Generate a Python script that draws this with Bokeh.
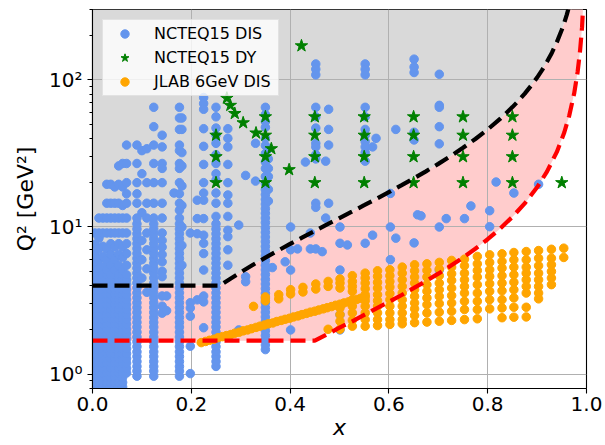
import math
from bokeh.plotting import figure
from bokeh.models import (Range1d, FixedTicker, PrintfTickFormatter, CustomJSTickFormatter,
                          Legend, LegendItem)
from bokeh.embed import file_html
from bokeh.resources import INLINE

# ---------------- data ----------------
X_TICKS = [0.0, 0.2, 0.4, 0.6, 0.8, 1.0]
Y_MAJOR = [1, 10, 100]
Y_MINOR = [0.8, 0.9, 2, 3, 4, 5, 6, 7, 8, 9, 20, 30, 40, 50, 60, 70, 80, 90, 200, 300]
Y_LABELS = {1: "10\u2070", 10: "10\u00b9", 100: "10\u00b2"}

# black dashed cut (Q2 > 4, W cut)
BLACK_X = [0.0, 0.258, 0.28, 0.3, 0.325, 0.35, 0.375, 0.4, 0.425, 0.45, 0.475, 0.5, 0.525, 0.55,
           0.575, 0.6, 0.625, 0.65, 0.675, 0.7, 0.725, 0.75, 0.775, 0.8, 0.825, 0.85, 0.86,
           0.875, 0.89, 0.9, 0.91, 0.92, 0.93, 0.94, 0.95, 0.955, 0.96, 0.965, 0.97]
BLACK_Q2 = [4.0, 4.0, 4.47, 4.93, 5.54, 6.19, 6.90, 7.67, 8.50, 9.41, 10.40, 11.5, 12.71, 14.06,
            15.56, 17.25, 19.17, 21.36, 23.88, 26.83, 30.32, 34.5, 39.61, 46.0, 54.21, 65.2, 70.64,
            80.5, 93.05, 103.5, 116.3, 132.3, 152.8, 180.2, 218.5, 244.1, 276.0, 317.1, 371.8]

# red dashed cut (Q2 > 1.69, W cut)
RED_X = [0.0, 0.45, 0.475, 0.5, 0.525, 0.55, 0.575, 0.6, 0.625, 0.65, 0.675, 0.7, 0.725, 0.75,
         0.775, 0.8, 0.825, 0.85, 0.875, 0.9, 0.92, 0.94, 0.955, 0.965, 0.975, 0.982, 0.987,
         0.991, 0.995]
RED_Q2 = [1.69, 1.69, 1.87, 2.07, 2.28, 2.53, 2.80, 3.10, 3.44, 3.84, 4.29, 4.82, 5.45, 6.20,
          7.12, 8.26, 9.74, 11.71, 14.46, 18.59, 23.76, 32.37, 43.84, 56.96, 80.57, 112.7, 157.8,
          227.5, 411.1]

# NCTEQ15 DIS points, column by column (x, list of Q2)
LOW_STACK = [0.82, 0.88, 0.95, 1.02, 1.1, 1.19, 1.28, 1.38, 1.49, 1.61, 1.74, 1.88, 2.03, 2.19,
             2.37, 2.56, 2.76, 2.98, 3.22, 3.48, 3.76, 4.06, 4.38, 4.73]
COLUMN_STACK = [0.97, 1.05, 1.13, 1.22, 1.32, 1.42, 1.54, 1.66, 1.79, 1.93, 2.09, 2.25, 2.43,
                2.63, 2.84, 3.06, 3.31, 3.57, 3.86, 4.16, 4.5, 4.86, 5.25, 5.67, 6.12, 6.61,
                7.14, 7.71, 8.33, 9.0, 9.7, 10.5]
STACK_035 = [1.47, 1.58, 1.7, 1.83, 1.97, 2.12, 2.28, 2.45, 2.64, 2.84, 3.06, 3.29, 3.54, 3.81,
             4.1, 4.41, 4.75, 5.11, 5.5, 5.92, 6.37, 6.86, 7.38, 7.94, 8.55, 9.2, 9.9, 10.7,
             11.5, 12.4, 13.3, 14.3, 15.4, 16.6, 17.9, 19.8, 22, 25, 27.6, 31.5, 35.7, 40, 47.5,
             52, 58, 65]

DIS_COLUMNS = [
    (0.005, LOW_STACK + [5.2, 5.8, 6.6, 7.6, 9.1]),
    (0.013, LOW_STACK + [5.2, 6.0, 7.1, 8.4, 9.1, 11.5]),
    (0.021, LOW_STACK + [5.4, 6.3, 7.4, 9.1, 11.5]),
    (0.029, LOW_STACK + [5.1, 6.0, 7.1, 9.1, 11.5, 14.5, 19.5]),
    (0.037, LOW_STACK + [5.5, 6.5, 7.7, 9.1, 11.5, 14.5, 19.5]),
    (0.045, LOW_STACK + [5.1, 6.0, 7.3, 9.1, 11.5, 14.5, 18.7]),
    (0.053, LOW_STACK + [5.5, 6.5, 7.7, 9.1, 11.5, 14.5, 19.5, 26.0]),
    (0.061, LOW_STACK + [5.1, 6.2, 7.3, 9.1, 11.5, 14.0, 18.7, 27.0]),
    (0.069, LOW_STACK[3:] + [5.5, 6.6, 7.7, 9.1, 11.5, 14.5, 16.8, 20.0, 27.0, 36.0]),
    (0.09, COLUMN_STACK + [11.5, 14.5, 16.8, 20.0, 27.0, 36.0]),
    (0.10, [33.0, 23.0, 12.5, 8.1, 6.0, 4.5]),
    (0.11, [34.0, 20.0, 14.5, 11.5, 9.1, 7.0, 5.2, 3.6]),
    (0.124, COLUMN_STACK + [11.5, 14.5, 20.0, 27.0, 36.0, 48.0, 65.0]),
    (0.141, [42.0, 35.0, 27.0, 25.0, 20.0, 14.5, 11.5, 9.1, 8.1, 7.3, 6.5, 5.8, 5.0, 4.6, 3.4,
             2.9, 2.6]),
    (0.15, [3.4, 2.7]),
    (0.165, [17.0]),
    (0.176, COLUMN_STACK + [11.5, 13.0, 14.5, 16.8, 20.0, 25.0, 27.0, 33.0, 36.0, 46.0, 55.0, 65.0]),
    (0.181, [55.0, 46.0, 32.0, 26.0, 19.0, 14.0, 10.0, 7.5, 5.5]),
    (0.198, [9.1, 3.06, 2.82, 2.48, 1.55, 1.01]),
    (0.212, [15.2, 11.4, 9.0, 3.2]),
    (0.225, [75.7, 69.0, 63.0, 46.5, 35.3, 26.6, 20.0, 17.0, 15.2, 11.4, 8.8, 7.75, 6.6, 5.1,
             3.4, 3.1, 2.07]),
    (0.25, COLUMN_STACK[2:] + [11.8, 14.5, 17.0, 20.8, 23.0, 27.0, 31.0, 37.0, 42.0, 47.0, 56.0, 65.0]),
    (0.274, [46.5, 40.0, 35.0, 26.6, 20.0, 16.5, 14.5, 11.8, 9.5, 8.6, 7.0, 5.5]),
    (0.296, [10.3, 2.0]),
    (0.31, [22.4, 4.6, 4.25]),
    (0.33, [20.5, 37.0]),
    (0.35, STACK_035),
    (0.356, [15.0, 18.0, 22.0, 25.0, 29.0, 34.0]),
    (0.364, [5.3]),
    (0.39, [5.8]),
    (0.401, [10.0, 7.0, 5.1, 2.0]),
    (0.415, [7.1]),
    (0.431, [27.6]),
    (0.441, [9.1, 7.1]),
    (0.452, [128.0, 118.0, 108.0, 65.0, 56.0, 47.0, 37.0, 35.0, 31.0, 29.0, 14.5, 13.6, 7.1]),
    (0.465, [6.8]),
    (0.472, [28.0, 11.5]),
    (0.478, [63.0, 46.0, 36.0, 14.5]),
    (0.501, [10.0, 7.75, 5.1, 2.9, 2.54, 2.0]),
    (0.516, [7.55]),
    (0.552, [128.0, 118.0, 108.0, 65.0, 56.0, 46.0, 42.0, 38.0, 35.0, 32.0, 28.0, 7.75]),
    (0.567, [35.0, 8.8]),
    (0.574, [40.0]),
    (0.603, [16.9, 10.0, 6.0]),
    (0.614, [46.0, 8.4]),
    (0.651, [138.0, 122.0, 112.0, 44.0, 39.0, 7.8]),
    (0.658, [12.1]),
    (0.665, [11.9]),
    (0.702, [109.0, 67.0, 65.0, 48.0, 36.7, 10.0, 5.1]),
    (0.716, [11.4]),
    (0.753, [11.4]),
    (0.766, [13.9]),
    (0.804, [12.9, 10.05]),
    (0.817, [20.2]),
    (0.853, [17.0]),
    (0.903, [19.5]),
]

# NCTEQ15 DY points
DY_X = [0.272, 0.279, 0.288, 0.305, 0.331, 0.362, 0.398, 0.423,
        0.25, 0.25, 0.25,
        0.35, 0.35, 0.35, 0.35,
        0.45, 0.45, 0.45, 0.45,
        0.55, 0.55, 0.55, 0.55,
        0.65, 0.65, 0.65, 0.65,
        0.75, 0.75, 0.75, 0.75,
        0.85, 0.85, 0.85, 0.85,
        0.95]
DY_Q2 = [75.0, 67.0, 59.0, 51.0, 43.5, 34.0, 24.5, 170.0,
         42.0, 30.0, 20.0,
         56.0, 42.0, 30.0, 20.0,
         56.0, 42.0, 30.0, 20.0,
         56.0, 42.0, 30.0, 20.0,
         56.0, 42.0, 30.0, 20.0,
         56.0, 42.0, 30.0, 20.0,
         56.0, 42.0, 30.0, 20.0,
         20.0]

# JLAB 6 GeV DIS points
JLAB_DIAG_X = [0.220, 0.229, 0.237, 0.246, 0.254, 0.263, 0.271, 0.280, 0.288, 0.297, 0.305,
               0.314, 0.322, 0.331, 0.339, 0.348, 0.356, 0.365, 0.373, 0.382, 0.390, 0.399,
               0.407, 0.416, 0.424, 0.433, 0.441, 0.450, 0.458, 0.467, 0.475, 0.484, 0.492,
               0.501, 0.509, 0.518, 0.526, 0.535, 0.543, 0.552]
JLAB_DIAG_Q2 = [1.64, 1.67, 1.70, 1.73, 1.77, 1.80, 1.83, 1.86, 1.90, 1.93, 1.97, 2.00, 2.04,
                2.08, 2.12, 2.16, 2.20, 2.23, 2.28, 2.32, 2.36, 2.40, 2.45, 2.49, 2.54, 2.59,
                2.64, 2.68, 2.73, 2.78, 2.83, 2.88, 2.94, 2.99, 3.05, 3.10, 3.16, 3.22, 3.28, 3.34]
JLAB_COLUMNS = [
    (0.326, [2.89]),
    (0.35, [3.15, 3.35]),
    (0.377, [3.25, 3.47]),
    (0.401, [3.51, 3.75]),
    (0.426, [3.62, 3.89]),
    (0.452, [3.79, 4.10]),
    (0.477, [3.95, 4.27, 2.02]),
    (0.501, [3.85, 4.16, 4.43, 2.82, 2.54, 2.29, 2.02]),
    (0.526, [4.67, 4.27, 3.95, 3.66, 3.21, 2.90, 2.61, 2.33, 2.12]),
    (0.552, [4.86, 4.50, 4.16, 3.81, 3.47, 3.16, 2.90, 2.61, 2.35, 2.12]),
    (0.577, [5.04, 4.62, 4.21, 3.85, 3.47, 3.16, 2.90, 2.61, 2.35, 2.14]),
    (0.602, [5.12, 4.67, 4.27, 3.91, 3.53, 3.21, 2.90, 2.61, 2.35, 2.18]),
    (0.627, [5.34, 4.86, 4.38, 3.95, 3.56, 3.21, 2.90, 2.61, 2.35, 2.20]),
    (0.652, [5.54, 5.04, 4.57, 4.16, 3.75, 3.38, 3.05, 2.78, 2.51, 2.24]),
    (0.677, [5.62, 5.07, 4.57, 4.06, 3.66, 3.30, 2.97, 2.61, 2.26]),
    (0.702, [5.75, 5.18, 4.67, 4.16, 3.75, 3.38, 3.02, 2.64, 2.29]),
    (0.727, [5.93, 5.34, 4.81, 4.34, 3.85, 3.42, 3.05, 2.68, 2.32]),
    (0.753, [6.05, 5.45, 4.86, 4.38, 3.95, 3.56, 3.13, 2.75, 2.35]),
    (0.779, [6.31, 5.62, 5.07, 4.57, 4.06, 3.56, 3.13, 2.75, 2.38]),
    (0.804, [6.47, 5.75, 5.12, 4.62, 4.12, 3.66, 3.21, 2.78]),
    (0.829, [6.57, 5.84, 5.26, 4.67, 4.16, 3.69, 3.21, 2.82, 2.42]),
    (0.853, [6.71, 5.99, 5.34, 4.74, 4.21, 3.75, 3.30, 2.85, 2.44]),
    (0.878, [6.81, 5.99, 5.34, 4.86, 4.38, 3.95, 3.56, 2.85, 2.45]),
    (0.903, [6.92, 6.14, 5.45, 4.86, 4.38, 3.95, 3.56, 3.25]),
    (0.929, [7.06, 6.14, 5.54, 4.99, 4.50, 4.06]),
    (0.954, [7.18, 6.21]),
]

Y_MIN, Y_MAX = 0.8, 300.0

# ---------------- flatten tables ----------------
dis_x = [x for x, qs in DIS_COLUMNS for _ in qs]
dis_q2 = [q for _, qs in DIS_COLUMNS for q in qs]
jlab_x = JLAB_DIAG_X + [x for x, qs in JLAB_COLUMNS for _ in qs]
jlab_q2 = JLAB_DIAG_Q2 + [q for _, qs in JLAB_COLUMNS for q in qs]

FONT = "DejaVu Sans"

p = figure(width=605, height=445, x_range=Range1d(0, 1), y_range=Range1d(Y_MIN, Y_MAX),
           y_axis_type="log", output_backend="svg", toolbar_location=None,
           title_location=None,
           min_border_left=92, min_border_right=19, min_border_top=9, min_border_bottom=57)
p.background_fill_color = "white"
p.border_fill_color = "white"
p.outline_line_color = "black"
p.outline_line_width = 1.1

# shaded regions (under the grid)
gray_x = BLACK_X + [BLACK_X[-1], BLACK_X[0]]
gray_y = BLACK_Q2 + [Y_MAX, Y_MAX]
r = p.patch(gray_x, gray_y, fill_color="#d9d9d9", line_color=None)
r.level = "image"
pink_x = RED_X + BLACK_X[::-1]
pink_y = RED_Q2 + BLACK_Q2[::-1]
r = p.patch(pink_x, pink_y, fill_color="#ffcccc", line_color=None)
r.level = "image"

r_dis = p.scatter(dis_x, dis_q2, marker="circle", size=8.5, fill_color="#6495ED",
                  line_color="#6495ED")
r_dy = p.scatter(DY_X, DY_Q2, marker="star", size=13, fill_color="green", line_color="green")
r_jlab = p.scatter(jlab_x, jlab_q2, marker="circle", size=8.5, fill_color="#FFA500",
                   line_color="#FFA500")

p.line(BLACK_X, BLACK_Q2, line_color="black", line_width=4.2, line_dash="15 7")
p.line(RED_X, RED_Q2, line_color="red", line_width=4.2, line_dash="15 7")

# axes
p.xaxis.ticker = FixedTicker(ticks=X_TICKS)
p.xaxis.formatter = PrintfTickFormatter(format="%.1f")
p.xgrid.ticker = FixedTicker(ticks=X_TICKS)
p.yaxis.ticker = FixedTicker(ticks=Y_MAJOR, minor_ticks=Y_MINOR)
p.ygrid.ticker = FixedTicker(ticks=Y_MAJOR)
p.yaxis.formatter = CustomJSTickFormatter(args=dict(labels={str(k): v for k, v in Y_LABELS.items()}),
                                          code="const s = String(tick); return (s in labels) ? labels[s] : '';")

for ax in (p.xaxis[0], p.yaxis[0]):
    ax.axis_line_color = "black"
    ax.axis_line_width = 1.1
    ax.major_tick_line_color = "black"
    ax.major_tick_line_width = 1.1
    ax.major_tick_out = 5
    ax.major_tick_in = 0
    ax.minor_tick_line_color = "black"
    ax.minor_tick_out = 3
    ax.minor_tick_in = 0
    ax.major_label_text_font = FONT
    ax.major_label_text_font_size = "20px"
    ax.major_label_text_color = "black"
    ax.axis_label_text_font = FONT
    ax.axis_label_text_font_size = "22px"
    ax.axis_label_text_color = "black"

p.xaxis.minor_tick_line_color = None
p.xaxis.major_label_standoff = 3
p.xaxis.axis_label = "x"
p.xaxis.axis_label_text_font_style = "italic"
p.xaxis.axis_label_standoff = 1
p.yaxis.major_label_standoff = 5
p.yaxis.axis_label = "Q\u00b2 [GeV\u00b2]"
p.yaxis.axis_label_text_font_style = "normal"
p.yaxis.axis_label_standoff = 8

for g in (p.xgrid[0], p.ygrid[0]):
    g.grid_line_color = "#b0b0b0"
    g.grid_line_width = 1

legend = Legend(items=[LegendItem(label="NCTEQ15 DIS", renderers=[r_dis]),
                       LegendItem(label="NCTEQ15 DY", renderers=[r_dy]),
                       LegendItem(label="JLAB 6GeV DIS", renderers=[r_jlab])],
                location="top_left")
legend.margin = 10
legend.padding = 3
legend.spacing = 3
legend.glyph_width = 37
legend.glyph_height = 21
legend.label_height = 21
legend.label_width = 121
legend.label_standoff = 11
legend.label_text_font = FONT
legend.label_text_font_size = "16px"
legend.label_text_color = "black"
legend.background_fill_color = "white"
legend.background_fill_alpha = 0.8
legend.border_line_color = "#cccccc"
legend.border_line_width = 1
p.add_layout(legend)

open("out.html", "w").write(file_html(p, INLINE))
